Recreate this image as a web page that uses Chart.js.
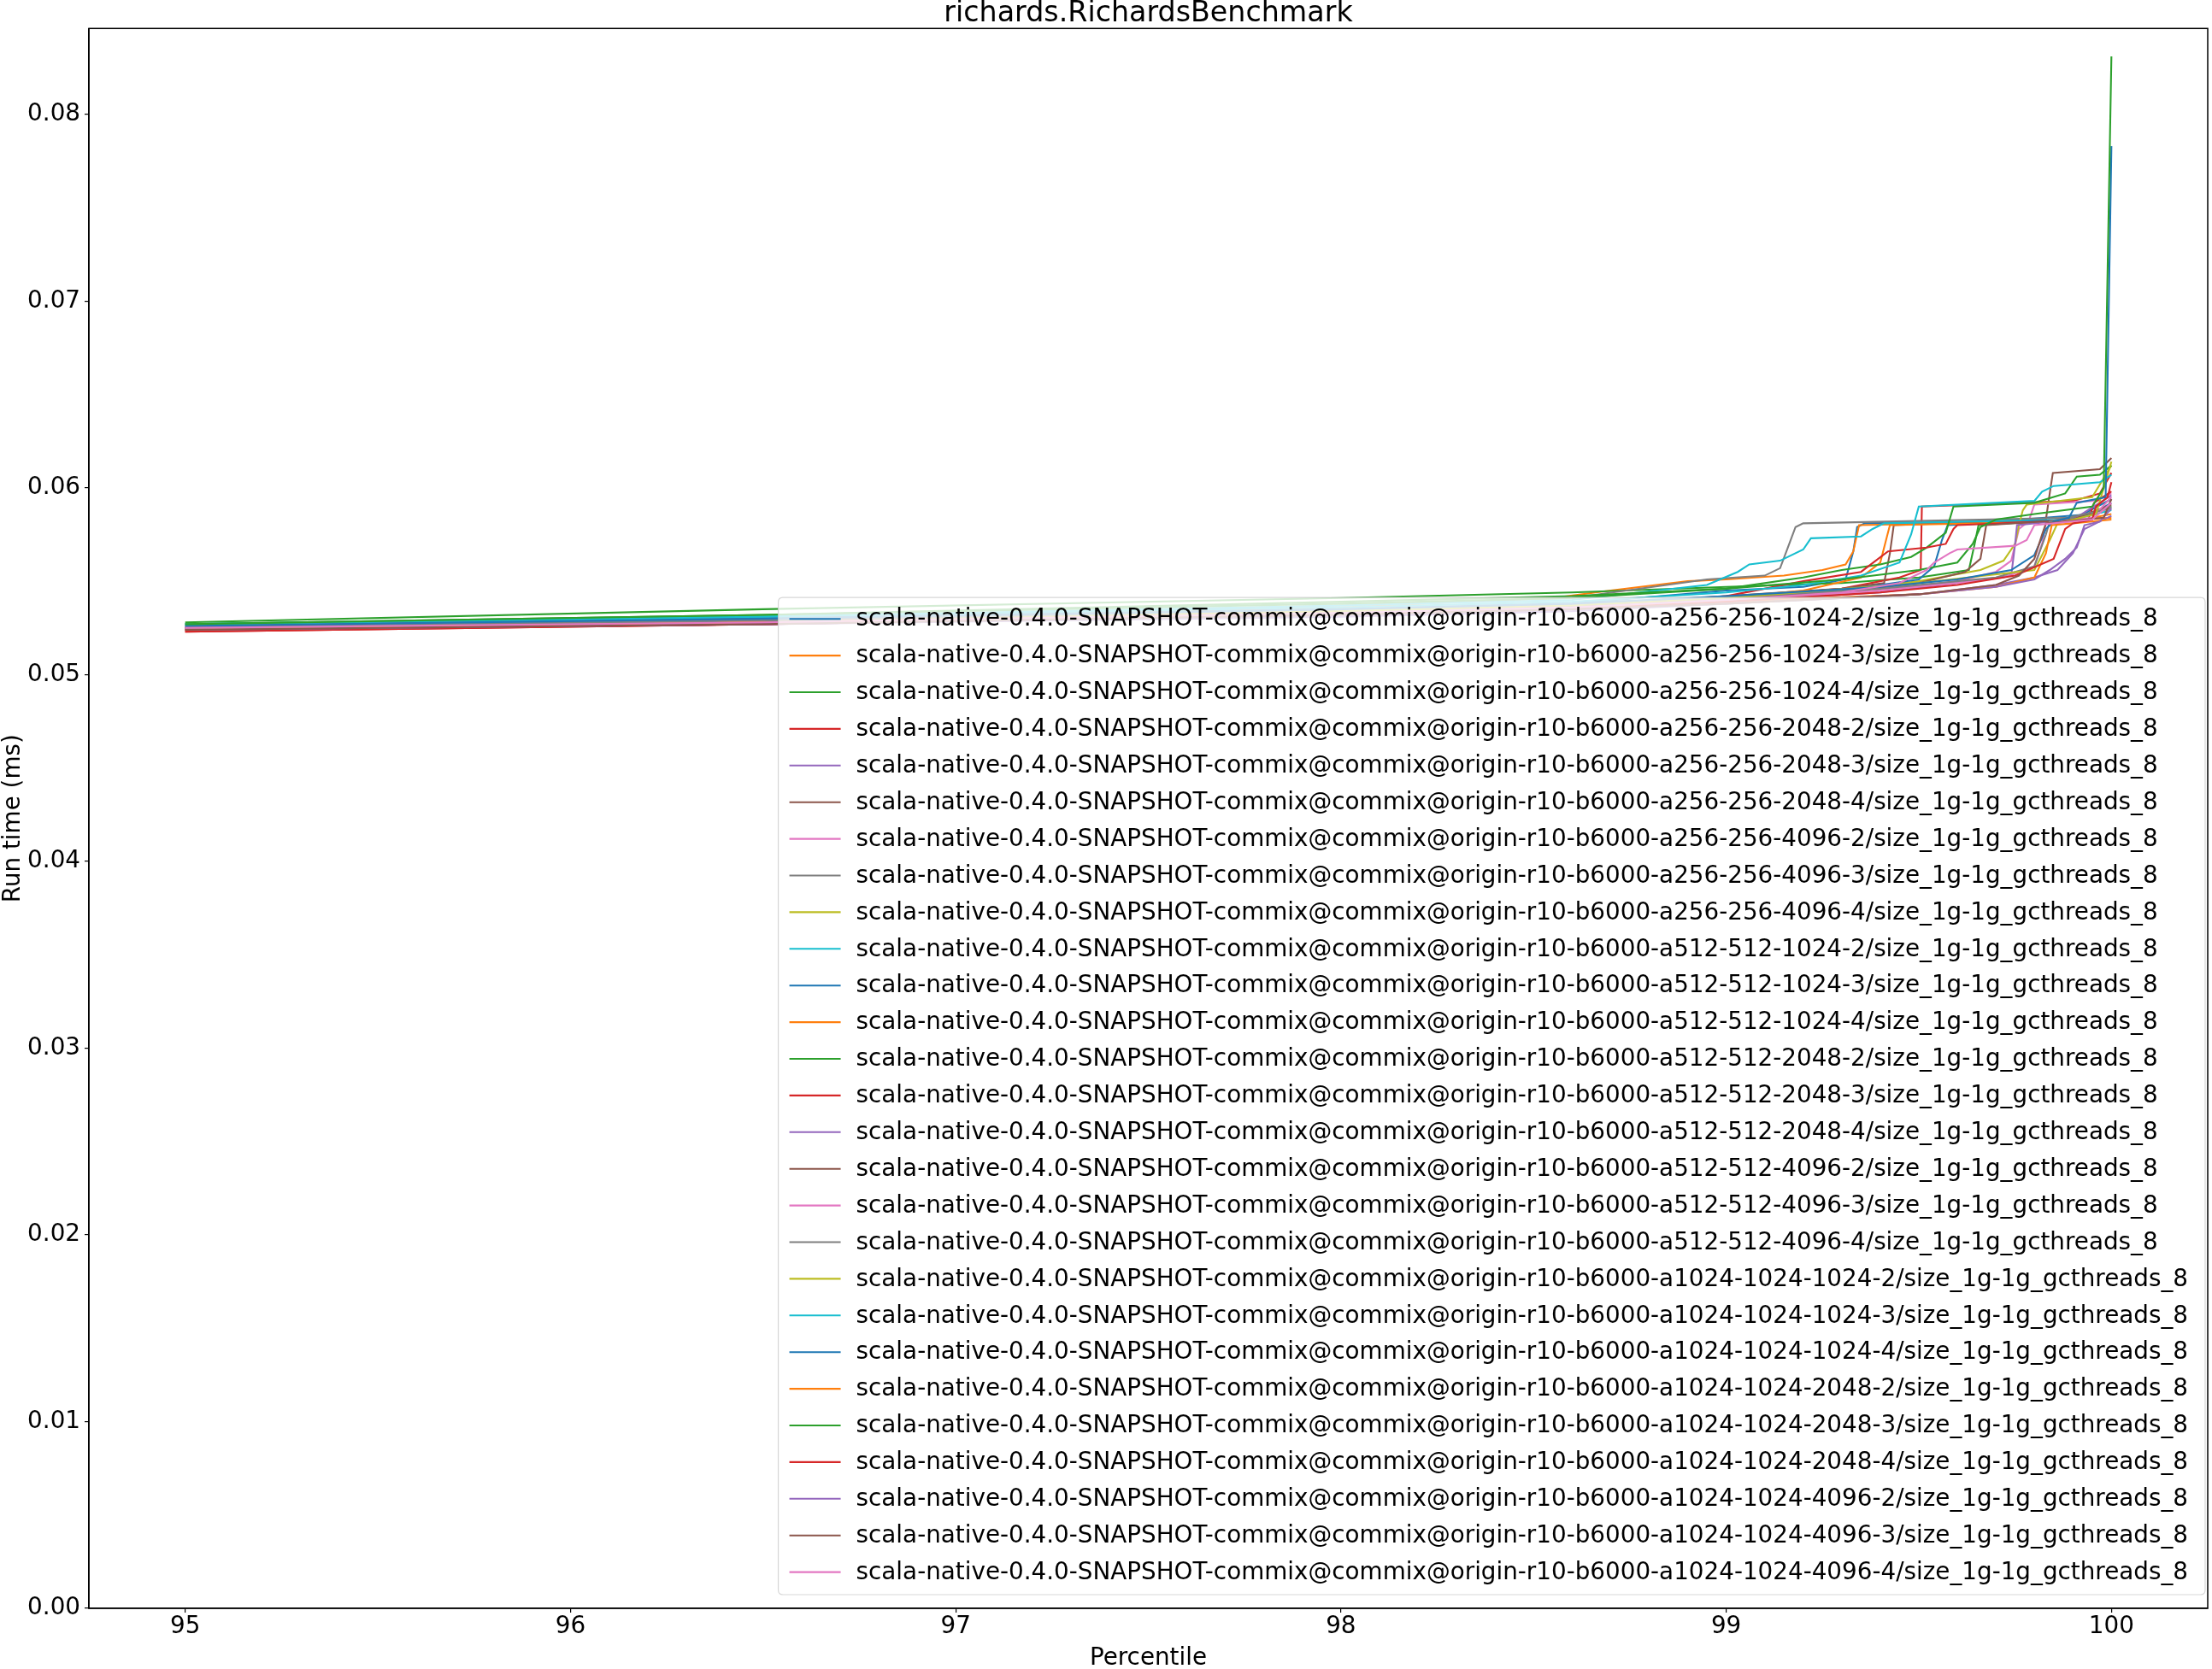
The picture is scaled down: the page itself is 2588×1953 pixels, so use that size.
<!DOCTYPE html>
<html>
<head>
<meta charset="utf-8">
<script src="https://cdn.jsdelivr.net/npm/chart.js@4.4.1/dist/chart.umd.min.js"></script>
<style>
  html, body { margin: 0; padding: 0; background: #ffffff; }
  #wrap { width: 2588px; height: 1953px; position: relative; }
</style>
</head>
<body>
<div id="wrap"><canvas id="c"></canvas></div>
<script>
// ---------- data ----------
const chartTitle = 'richards.RichardsBenchmark';
const xAxisLabel = 'Percentile';
const yAxisLabel = 'Run time (ms)';
const percentileTicks = [95, 96, 97, 98, 99, 100];
const runTimeTicks = [0, 0.01, 0.02, 0.03, 0.04, 0.05, 0.06, 0.07, 0.08];

const seriesLabels = [
  'scala-native-0.4.0-SNAPSHOT-commix@commix@origin-r10-b6000-a256-256-1024-2/size_1g-1g_gcthreads_8',
  'scala-native-0.4.0-SNAPSHOT-commix@commix@origin-r10-b6000-a256-256-1024-3/size_1g-1g_gcthreads_8',
  'scala-native-0.4.0-SNAPSHOT-commix@commix@origin-r10-b6000-a256-256-1024-4/size_1g-1g_gcthreads_8',
  'scala-native-0.4.0-SNAPSHOT-commix@commix@origin-r10-b6000-a256-256-2048-2/size_1g-1g_gcthreads_8',
  'scala-native-0.4.0-SNAPSHOT-commix@commix@origin-r10-b6000-a256-256-2048-3/size_1g-1g_gcthreads_8',
  'scala-native-0.4.0-SNAPSHOT-commix@commix@origin-r10-b6000-a256-256-2048-4/size_1g-1g_gcthreads_8',
  'scala-native-0.4.0-SNAPSHOT-commix@commix@origin-r10-b6000-a256-256-4096-2/size_1g-1g_gcthreads_8',
  'scala-native-0.4.0-SNAPSHOT-commix@commix@origin-r10-b6000-a256-256-4096-3/size_1g-1g_gcthreads_8',
  'scala-native-0.4.0-SNAPSHOT-commix@commix@origin-r10-b6000-a256-256-4096-4/size_1g-1g_gcthreads_8',
  'scala-native-0.4.0-SNAPSHOT-commix@commix@origin-r10-b6000-a512-512-1024-2/size_1g-1g_gcthreads_8',
  'scala-native-0.4.0-SNAPSHOT-commix@commix@origin-r10-b6000-a512-512-1024-3/size_1g-1g_gcthreads_8',
  'scala-native-0.4.0-SNAPSHOT-commix@commix@origin-r10-b6000-a512-512-1024-4/size_1g-1g_gcthreads_8',
  'scala-native-0.4.0-SNAPSHOT-commix@commix@origin-r10-b6000-a512-512-2048-2/size_1g-1g_gcthreads_8',
  'scala-native-0.4.0-SNAPSHOT-commix@commix@origin-r10-b6000-a512-512-2048-3/size_1g-1g_gcthreads_8',
  'scala-native-0.4.0-SNAPSHOT-commix@commix@origin-r10-b6000-a512-512-2048-4/size_1g-1g_gcthreads_8',
  'scala-native-0.4.0-SNAPSHOT-commix@commix@origin-r10-b6000-a512-512-4096-2/size_1g-1g_gcthreads_8',
  'scala-native-0.4.0-SNAPSHOT-commix@commix@origin-r10-b6000-a512-512-4096-3/size_1g-1g_gcthreads_8',
  'scala-native-0.4.0-SNAPSHOT-commix@commix@origin-r10-b6000-a512-512-4096-4/size_1g-1g_gcthreads_8',
  'scala-native-0.4.0-SNAPSHOT-commix@commix@origin-r10-b6000-a1024-1024-1024-2/size_1g-1g_gcthreads_8',
  'scala-native-0.4.0-SNAPSHOT-commix@commix@origin-r10-b6000-a1024-1024-1024-3/size_1g-1g_gcthreads_8',
  'scala-native-0.4.0-SNAPSHOT-commix@commix@origin-r10-b6000-a1024-1024-1024-4/size_1g-1g_gcthreads_8',
  'scala-native-0.4.0-SNAPSHOT-commix@commix@origin-r10-b6000-a1024-1024-2048-2/size_1g-1g_gcthreads_8',
  'scala-native-0.4.0-SNAPSHOT-commix@commix@origin-r10-b6000-a1024-1024-2048-3/size_1g-1g_gcthreads_8',
  'scala-native-0.4.0-SNAPSHOT-commix@commix@origin-r10-b6000-a1024-1024-2048-4/size_1g-1g_gcthreads_8',
  'scala-native-0.4.0-SNAPSHOT-commix@commix@origin-r10-b6000-a1024-1024-4096-2/size_1g-1g_gcthreads_8',
  'scala-native-0.4.0-SNAPSHOT-commix@commix@origin-r10-b6000-a1024-1024-4096-3/size_1g-1g_gcthreads_8',
  'scala-native-0.4.0-SNAPSHOT-commix@commix@origin-r10-b6000-a1024-1024-4096-4/size_1g-1g_gcthreads_8'
];

// [percentile, run time ms]
const a256_256_1024_2 = [[95,0.0526],[96.5,0.0530],[98,0.0535],[98.6,0.0538],[99,0.0545],[99.2,0.0547],[99.31,0.0551],[99.33,0.0566],[99.34,0.0579],[99.36,0.0581],[99.7,0.0582],[99.95,0.0586],[100,0.0592]];
const a256_256_1024_3 = [[95,0.0525],[96.5,0.0529],[98,0.0536],[98.55,0.0541],[98.7,0.0545],[98.9,0.0550],[99,0.0551],[99.15,0.0553],[99.25,0.0556],[99.31,0.0559],[99.33,0.0566],[99.345,0.0580],[99.8,0.0582],[100,0.0584]];
const a256_256_1024_4 = [[95,0.0528],[96.5,0.0535],[98,0.0541],[98.6,0.0544],[99,0.0547],[99.3,0.0549],[99.5,0.0552],[99.63,0.0556],[99.645,0.0570],[99.655,0.0580],[99.9,0.0583],[100,0.0590]];
const a256_256_2048_2 = [[95,0.0523],[96.5,0.0527],[98,0.0533],[98.6,0.0537],[99,0.0541],[99.3,0.0546],[99.45,0.0552],[99.505,0.0556],[99.508,0.0590],[99.9,0.0593],[99.97,0.0597],[100,0.0608]];
const a256_256_2048_3 = [[95,0.0524],[96.5,0.0527],[98,0.0532],[98.6,0.0535],[99,0.0538],[99.5,0.0543],[99.7,0.0548],[99.8,0.0552],[99.86,0.0556],[99.9,0.0565],[99.93,0.0578],[99.96,0.0581],[100,0.0585]];
const a256_256_2048_4 = [[95,0.0525],[96.5,0.0528],[98,0.0534],[98.6,0.0537],[99,0.0542],[99.3,0.0546],[99.41,0.0549],[99.425,0.0565],[99.435,0.0580],[99.83,0.0583],[99.842,0.0600],[99.848,0.0608],[99.97,0.0610],[100,0.0616]];
const a256_256_4096_2 = [[95,0.0525],[96.5,0.0528],[98,0.0533],[98.6,0.0536],[99,0.0540],[99.4,0.0545],[99.6,0.0550],[99.7,0.0555],[99.74,0.0561],[99.76,0.0578],[99.785,0.0582],[99.8,0.0591],[99.95,0.0593],[100,0.0597]];
const a256_256_4096_3 = [[95,0.0526],[96.5,0.0530],[98,0.0537],[98.6,0.0541],[98.95,0.0551],[99.1,0.0553],[99.14,0.0557],[99.16,0.0568],[99.18,0.0579],[99.2,0.0581],[99.9,0.0584],[100,0.0590]];
const a256_256_4096_4 = [[95,0.0524],[96.5,0.0528],[98,0.0533],[98.6,0.0536],[99,0.0540],[99.3,0.0545],[99.5,0.0550],[99.66,0.0556],[99.72,0.0561],[99.75,0.0570],[99.76,0.0580],[99.77,0.0588],[99.78,0.0591],[99.95,0.0595],[100,0.0612]];
const a512_512_1024_2 = [[95,0.0527],[96.5,0.0531],[98,0.0537],[98.6,0.0540],[98.95,0.0548],[99.03,0.0555],[99.06,0.0559],[99.14,0.0561],[99.2,0.0567],[99.22,0.0573],[99.35,0.0574],[99.38,0.0578],[99.41,0.0581],[99.9,0.0583],[100,0.0588]];
const a512_512_1024_3 = [[95,0.0525],[96.5,0.0529],[98,0.0534],[98.6,0.0537],[99,0.0541],[99.3,0.0545],[99.5,0.0551],[99.54,0.0558],[99.56,0.0572],[99.575,0.0580],[99.9,0.0583],[100,0.0594]];
const a512_512_1024_4 = [[95,0.0524],[96.5,0.0528],[98,0.0534],[98.6,0.0537],[99,0.0541],[99.2,0.0545],[99.35,0.0552],[99.40,0.0560],[99.415,0.0572],[99.425,0.0580],[99.9,0.0582],[100,0.0586]];
const a512_512_2048_2 = [[95,0.0527],[96.5,0.0532],[98,0.0539],[98.6,0.0542],[99,0.0546],[99.2,0.0552],[99.3,0.0556],[99.4,0.0559],[99.48,0.0563],[99.52,0.0568],[99.57,0.0576],[99.59,0.0590],[99.8,0.0592],[99.88,0.0597],[99.91,0.0606],[99.97,0.0607],[100,0.0612]];
const a512_512_2048_3 = [[95,0.0524],[96.5,0.0527],[98,0.0533],[98.6,0.0536],[99,0.0542],[99.2,0.0550],[99.35,0.0555],[99.42,0.0566],[99.52,0.0568],[99.57,0.0570],[99.59,0.0578],[99.6,0.0580],[99.94,0.0583],[99.955,0.0592],[100,0.0598]];
const a512_512_2048_4 = [[95,0.0524],[96.5,0.0527],[98,0.0532],[98.6,0.0535],[99,0.0539],[99.4,0.0544],[99.6,0.0549],[99.74,0.0553],[99.75,0.0570],[99.755,0.0580],[99.9,0.0583],[100,0.0596]];
const a512_512_4096_2 = [[95,0.0525],[96.5,0.0528],[98,0.0533],[98.6,0.0536],[99,0.0540],[99.3,0.0544],[99.5,0.0549],[99.62,0.0555],[99.66,0.0562],[99.675,0.0580],[99.9,0.0583],[100,0.0591]];
const a512_512_4096_3 = [[95,0.0525],[96.5,0.0528],[98,0.0533],[98.6,0.0536],[99,0.0540],[99.4,0.0545],[99.6,0.0549],[99.72,0.0552],[99.8,0.0558],[99.82,0.0570],[99.83,0.0581],[99.95,0.0584],[100,0.0595]];
const a512_512_4096_4 = [[95,0.0525],[96.5,0.0529],[98,0.0534],[98.6,0.0537],[99,0.0541],[99.4,0.0546],[99.7,0.0552],[99.8,0.0558],[99.83,0.0575],[99.84,0.0582],[100,0.0589]];
const a1024_1024_1024_2 = [[95,0.0524],[96.5,0.0528],[98,0.0534],[98.6,0.0537],[99,0.0541],[99.5,0.0549],[99.8,0.0556],[99.84,0.0572],[99.86,0.0581],[99.96,0.0586],[99.98,0.0600],[100,0.0614]];
const a1024_1024_1024_3 = [[95,0.0527],[96.5,0.0531],[98,0.0536],[98.6,0.0539],[99,0.0544],[99.2,0.0548],[99.35,0.0553],[99.45,0.0560],[99.48,0.0575],[99.50,0.0590],[99.80,0.0593],[99.82,0.0598],[99.85,0.0601],[99.97,0.0603],[100,0.0607]];
const a1024_1024_1024_4 = [[95,0.0526],[96.5,0.0530],[98,0.0535],[98.6,0.0538],[99,0.0542],[99.4,0.0547],[99.6,0.0551],[99.74,0.0556],[99.8,0.0564],[99.83,0.0578],[99.85,0.0582],[99.89,0.0584],[99.91,0.0592],[99.985,0.0595],[100,0.0783]];
const a1024_1024_2048_2 = [[95,0.0524],[96.5,0.0528],[98,0.0533],[98.6,0.0535],[99,0.0539],[99.5,0.0543],[99.7,0.0547],[99.8,0.0552],[99.83,0.0565],[99.845,0.0580],[99.9,0.0581],[100,0.0583]];
const a1024_1024_2048_3 = [[95,0.0527],[96.5,0.0532],[98,0.0538],[98.6,0.0541],[99,0.0546],[99.3,0.0551],[99.5,0.0556],[99.6,0.0560],[99.64,0.0570],[99.66,0.0579],[99.7,0.0583],[99.8,0.0586],[99.95,0.0590],[99.98,0.0600],[100,0.0831]];
const a1024_1024_2048_4 = [[95,0.0523],[96.5,0.0527],[98,0.0532],[98.6,0.0535],[99,0.0539],[99.4,0.0544],[99.6,0.0548],[99.75,0.0553],[99.85,0.0562],[99.88,0.0578],[99.9,0.0581],[99.95,0.0583],[99.96,0.0590],[99.99,0.0595],[100,0.0603]];
const a1024_1024_4096_2 = [[95,0.0524],[96.5,0.0527],[98,0.0531],[98.6,0.0534],[99,0.0538],[99.5,0.0543],[99.7,0.0547],[99.8,0.0551],[99.84,0.0556],[99.88,0.0562],[99.91,0.0568],[99.93,0.0580],[99.97,0.0582],[100,0.0589]];
const a1024_1024_4096_3 = [[95,0.0524],[96.5,0.0527],[98,0.0532],[98.6,0.0535],[99,0.0538],[99.5,0.0543],[99.7,0.0548],[99.76,0.0553],[99.8,0.0562],[99.82,0.0575],[99.83,0.0581],[99.98,0.0584],[100,0.0594]];
const a1024_1024_4096_4 = [[95,0.0525],[96.5,0.0528],[98,0.0533],[98.6,0.0536],[99,0.0540],[99.3,0.0544],[99.45,0.0549],[99.52,0.0556],[99.54,0.0560],[99.58,0.0565],[99.6,0.0567],[99.75,0.0569],[99.78,0.0572],[99.8,0.0580],[99.95,0.0583],[100,0.0592]];

const seriesValues = [
  a256_256_1024_2, a256_256_1024_3, a256_256_1024_4, a256_256_2048_2, a256_256_2048_3,
  a256_256_2048_4, a256_256_4096_2, a256_256_4096_3, a256_256_4096_4, a512_512_1024_2,
  a512_512_1024_3, a512_512_1024_4, a512_512_2048_2, a512_512_2048_3, a512_512_2048_4,
  a512_512_4096_2, a512_512_4096_3, a512_512_4096_4, a1024_1024_1024_2, a1024_1024_1024_3,
  a1024_1024_1024_4, a1024_1024_2048_2, a1024_1024_2048_3, a1024_1024_2048_4, a1024_1024_4096_2,
  a1024_1024_4096_3, a1024_1024_4096_4
];

// ---------- styles ----------
const palette = ['#1f77b4','#ff7f0e','#2ca02c','#d62728','#9467bd','#8c564b','#e377c2','#7f7f7f','#bcbd22','#17becf'];
const FONT = 'DejaVu Sans';
const baseSize = 27.8;

Chart.defaults.font.family = FONT;
Chart.defaults.color = '#000';

const N = seriesValues.length;
const datasets = seriesValues.map((vals, i) => ({
  label: seriesLabels[i],
  data: vals.map(p => ({ x: p[0], y: p[1] })),
  borderColor: palette[i % palette.length],
  backgroundColor: palette[i % palette.length],
  borderWidth: 2.1,
  pointRadius: 0,
  pointHoverRadius: 0,
  tension: 0,
  fill: false,
  order: N - 1 - i
}));

const framePlugin = {
  id: 'frame',
  afterDatasetsDraw(chart) {
    const { ctx, chartArea: a } = chart;
    ctx.save();
    ctx.strokeStyle = '#000';
    ctx.lineWidth = 1.5;
    ctx.strokeRect(a.left, a.top, a.right - a.left, a.bottom - a.top);
    ctx.restore();
  }
};

const mplLegend = {
  id: 'mplLegend',
  afterDraw(chart) {
    const { ctx, chartArea: a } = chart;
    const ds = chart.data.datasets;
    ctx.save();
    ctx.font = `${baseSize}px "${FONT}"`;
    let maxW = 0;
    ds.forEach(d => { maxW = Math.max(maxW, ctx.measureText(d.label).width); });
    const padL = 13, handle = 60, gap = 18, padR = 20;
    const rowH = 42.9, padTop = 25, padBot = 26.4;
    const w = padL + handle + gap + maxW + padR;
    const h = padTop + rowH * (ds.length - 1) + padBot;
    const right = a.right - 3, bottom = a.bottom - 16;
    const left = right - w, top = bottom - h;
    const r = 5.5;
    ctx.beginPath();
    ctx.moveTo(left + r, top);
    ctx.lineTo(right - r, top);
    ctx.quadraticCurveTo(right, top, right, top + r);
    ctx.lineTo(right, bottom - r);
    ctx.quadraticCurveTo(right, bottom, right - r, bottom);
    ctx.lineTo(left + r, bottom);
    ctx.quadraticCurveTo(left, bottom, left, bottom - r);
    ctx.lineTo(left, top + r);
    ctx.quadraticCurveTo(left, top, left + r, top);
    ctx.closePath();
    ctx.fillStyle = 'rgba(255,255,255,0.8)';
    ctx.fill();
    ctx.strokeStyle = 'rgba(204,204,204,0.8)';
    ctx.lineWidth = 1.2;
    ctx.stroke();
    ctx.textBaseline = 'middle';
    ctx.textAlign = 'left';
    ds.forEach((d, i) => {
      const y = top + padTop + i * rowH;
      ctx.strokeStyle = d.borderColor;
      ctx.lineWidth = 2.1;
      ctx.beginPath();
      ctx.moveTo(left + padL, y);
      ctx.lineTo(left + padL + handle, y);
      ctx.stroke();
      ctx.fillStyle = '#000';
      ctx.fillText(d.label, left + padL + handle + gap, y + 1);
    });
    ctx.restore();
  }
};

new Chart(document.getElementById('c'), {
  type: 'line',
  data: { datasets },
  options: {
    responsive: true,
    maintainAspectRatio: false,
    animation: false,
    events: [],
    layout: { padding: { left: 0, right: 5, top: 0, bottom: 0 } },
    plugins: {
      legend: { display: false },
      tooltip: { enabled: false },
      title: {
        display: true,
        text: chartTitle,
        fullSize: false,
        color: '#000',
        font: { family: FONT, size: 33.3, weight: 'normal', lineHeight: 1.0 },
        padding: { top: 0, bottom: 0 }
      }
    },
    scales: {
      x: {
        type: 'linear',
        min: 94.75,
        max: 100.25,
        afterBuildTicks: s => { s.ticks = percentileTicks.map(v => ({ value: v })); },
        afterFit: s => { s.height = 71; },
        ticks: {
          color: '#000',
          font: { family: FONT, size: baseSize },
          padding: 0,
          maxRotation: 0,
          autoSkip: false,
          callback: v => String(v)
        },
        grid: { drawOnChartArea: false, drawTicks: true, tickLength: 5, color: '#000', lineWidth: 1.2 },
        border: { display: true, color: '#000', width: 1.5 },
        title: {
          display: true, text: xAxisLabel, color: '#000',
          font: { family: FONT, size: baseSize, lineHeight: 0.85 },
          padding: { top: 0, bottom: 0 }
        }
      },
      y: {
        type: 'linear',
        min: 0,
        max: 0.0846,
        afterBuildTicks: s => { s.ticks = runTimeTicks.map(v => ({ value: v })); },
        afterFit: s => { s.width = 104; },
        ticks: {
          color: '#000',
          font: { family: FONT, size: baseSize },
          padding: 5,
          autoSkip: false,
          callback: v => Number(v).toFixed(2)
        },
        grid: { drawOnChartArea: false, drawTicks: true, tickLength: 5, color: '#000', lineWidth: 1.2 },
        border: { display: true, color: '#000', width: 1.5 },
        title: {
          display: true, text: yAxisLabel, color: '#000',
          font: { family: FONT, size: baseSize, lineHeight: 1.1 },
          padding: { top: 0, bottom: 0 }
        }
      }
    }
  },
  plugins: [framePlugin, mplLegend]
});
</script>
</body>
</html>
